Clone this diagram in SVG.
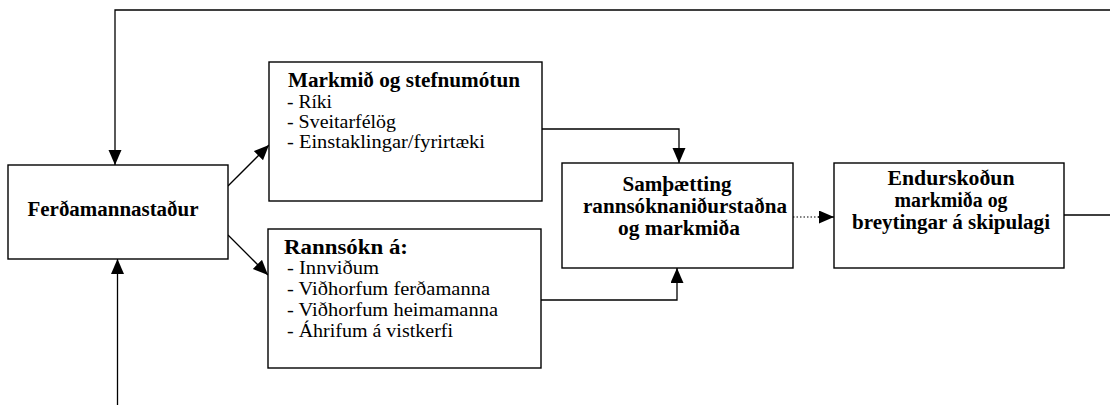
<svg xmlns="http://www.w3.org/2000/svg" width="1110" height="405" viewBox="0 0 1110 405">
<style>
.box{fill:#fff;stroke:#000;stroke-width:1.4}
.ln{fill:none;stroke:#000;stroke-width:1.3}
.dot{fill:none;stroke:#000;stroke-width:1.2;stroke-dasharray:1.5 2}
.tb{font-family:"Liberation Serif","Times New Roman",serif;font-weight:bold;font-size:20px;fill:#000}
.gt{font-family:"Liberation Serif","Times New Roman",serif;font-weight:bold;font-size:20px;fill:#000}
.gb{font-family:"Liberation Serif","Times New Roman",serif;font-size:19px;fill:#000}
</style>
<defs>
<marker id="ah" markerUnits="userSpaceOnUse" markerWidth="16" markerHeight="14" refX="15" refY="6.5" orient="auto">
<path d="M0,0 L15,6.5 L0,13 z" fill="#000"/>
</marker>
</defs>
<g id="connectors">
<path class="ln" d="M1064,215 L1116,215 L1116,10 L115,10 L115,165" marker-end="url(#ah)"/>
<path class="ln" d="M117.5,410 L117.5,259" marker-end="url(#ah)"/>
<path class="ln" d="M228,186 L269,145" marker-end="url(#ah)"/>
<path class="ln" d="M228,235 L268,275" marker-end="url(#ah)"/>
<path class="ln" d="M542,129 L679,129 L679,163" marker-end="url(#ah)"/>
<path class="ln" d="M541,300 L677,300 L677,268" marker-end="url(#ah)"/>
<path class="dot" d="M793,217 L820,217"/>
<path class="ln" d="M818,217 L834,217" stroke="none" marker-end="url(#ah)"/>
</g>
<g id="ferdamannastadur">
<rect class="box" x="8" y="165" width="220" height="94"/>
<text class="tb" x="113" y="216" text-anchor="middle" font-size="20.5" textLength="171" lengthAdjust="spacingAndGlyphs">Ferðamannastaður</text>
</g>
<g id="markmid">
<rect class="box" x="269" y="62" width="273" height="139"/>
<text class="gt" x="288" y="87" textLength="232" lengthAdjust="spacingAndGlyphs">Markmið og stefnumótun</text>
<text class="gb" x="287" y="108" textLength="45" lengthAdjust="spacingAndGlyphs">- Ríki</text>
<text class="gb" x="287" y="128" textLength="109" lengthAdjust="spacingAndGlyphs">- Sveitarfélög</text>
<text class="gb" x="287" y="148" textLength="198" lengthAdjust="spacingAndGlyphs">- Einstaklingar/fyrirtæki</text>
</g>
<g id="rannsokn">
<rect class="box" x="268" y="229" width="273" height="139"/>
<text class="gt" x="284" y="254" textLength="124" lengthAdjust="spacingAndGlyphs">Rannsókn á:</text>
<text class="gb" x="287" y="274" textLength="92" lengthAdjust="spacingAndGlyphs">- Innviðum</text>
<text class="gb" x="287" y="295" textLength="203" lengthAdjust="spacingAndGlyphs">- Viðhorfum ferðamanna</text>
<text class="gb" x="287" y="316" textLength="211" lengthAdjust="spacingAndGlyphs">- Viðhorfum heimamanna</text>
<text class="gb" x="287" y="337" textLength="166" lengthAdjust="spacingAndGlyphs">- Áhrifum á vistkerfi</text>
</g>
<g id="samthaetting">
<rect class="box" x="562" y="163" width="231" height="105"/>
<text class="tb" x="677" y="191" text-anchor="middle" textLength="109" lengthAdjust="spacingAndGlyphs">Samþætting</text>
<text class="tb" x="685" y="213" text-anchor="middle" textLength="204" lengthAdjust="spacingAndGlyphs">rannsóknaniðurstaðna</text>
<text class="tb" x="679" y="234.5" text-anchor="middle" textLength="122" lengthAdjust="spacingAndGlyphs">og markmiða</text>
</g>
<g id="endurskodun">
<rect class="box" x="834" y="163" width="230" height="105"/>
<text class="tb" x="951" y="185" text-anchor="middle" textLength="127" lengthAdjust="spacingAndGlyphs">Endurskoðun</text>
<text class="tb" x="951" y="207" text-anchor="middle" textLength="113" lengthAdjust="spacingAndGlyphs">markmiða og</text>
<text class="tb" x="951" y="229" text-anchor="middle" textLength="198" lengthAdjust="spacingAndGlyphs">breytingar á skipulagi</text>
</g>
</svg>
